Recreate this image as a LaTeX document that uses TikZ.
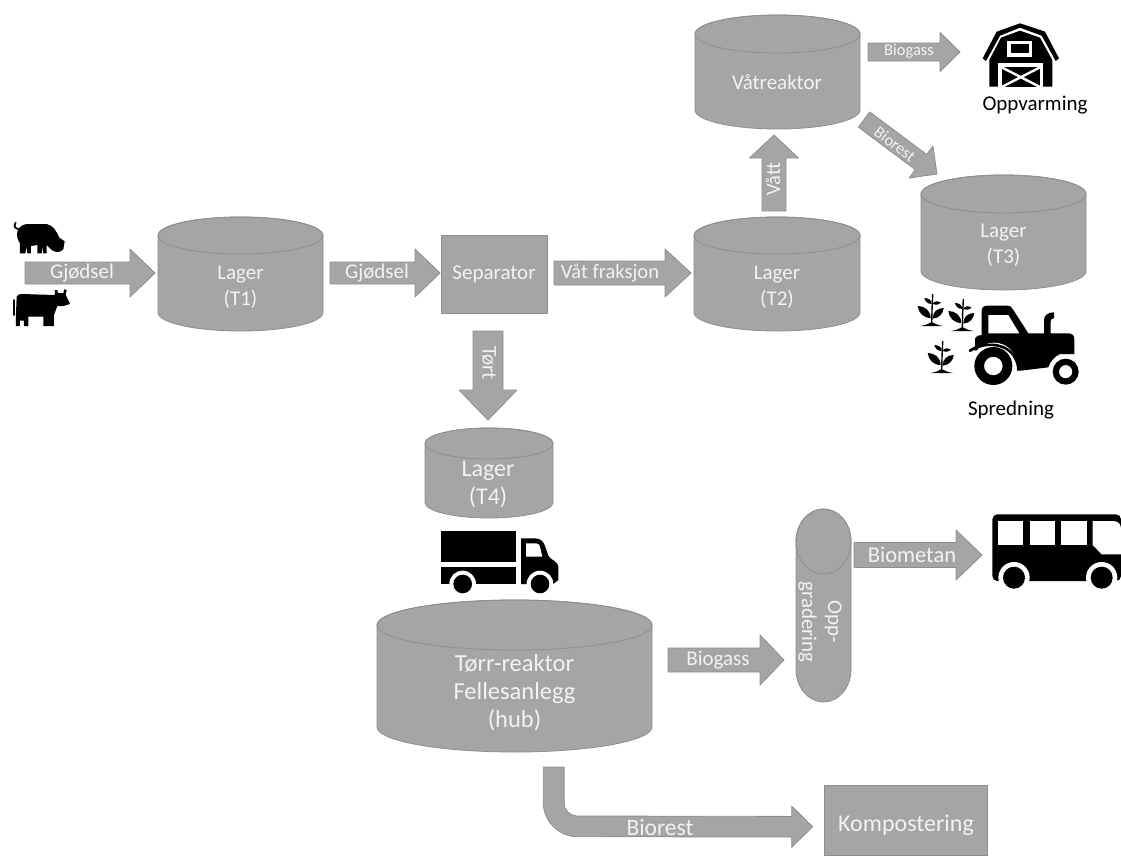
\documentclass[tikz,border=0pt]{standalone}
\usepackage{fontspec}
\setmainfont{Carlito}
\usetikzlibrary{calc}
\definecolor{boxfill}{HTML}{A5A5A5}
\definecolor{boxline}{HTML}{8E8E8E}
\definecolor{labelc}{HTML}{F2F2F2}
\tikzset{
  shapebox/.style={fill=boxfill,draw=boxline,line width=0.8pt,line join=round},
  lbl/.style={text=labelc,inner sep=0pt,align=center},
  lblblack/.style={text=black,inner sep=0pt,align=center},
  frame/.style={inner sep=0pt,outer sep=0pt},
  ico/.style={fill=black,draw=none},
  wht/.style={fill=white,draw=none}
}
\newcommand{\fs}[2]{\fontsize{#1}{#2}\selectfont}
% name, cx, top, bottom, half width, ry
\newcommand{\cyl}[6]{%
  \fill[boxfill,draw=boxline,line width=0.8pt]
    ({#2-#5},{#3+#6}) arc[start angle=180,end angle=360,x radius=#5,y radius=#6]
    -- ({#2+#5},{#4-#6}) arc[start angle=0,end angle=180,x radius=#5,y radius=#6] -- cycle;
  \draw[boxline,line width=0.8pt] ({#2},{#3+#6}) ellipse[x radius=#5,y radius=#6];
  \node[frame,minimum width={2*#5 pt},minimum height={(#4-#3)*1pt}] (#1) at ({#2},{(#3+#4)/2}) {};
}
% from, to, shaft width, head width, head length
\newcommand{\blockarrow}[5]{%
  \coordinate (hb) at ($(#2)!#5pt!(#1)$);
  \draw[shapebox]
    ($(#1)!#3pt/2!90:(#2)$) -- ($(hb)!#3pt/2!90:(#2)$) -- ($(hb)!#4pt/2!90:(#2)$) -- (#2)
    -- ($(hb)!#4pt/2!-90:(#2)$) -- ($(hb)!#3pt/2!-90:(#2)$) -- ($(#1)!#3pt/2!-90:(#2)$) -- cycle;
}
\newcommand{\plantico}[2]{%
\begin{scope}[shift={(#1,#2)},scale=1/3]
  \fill[ico] (-34,0) .. controls (-20,-2) and (-10,-6) .. (-5,-10) -- (5,-10) .. controls (10,-6) and (20,-2) .. (34,0) -- cycle;
  \draw[black,line width=1.4pt] (0,-6) -- (1,-50) -- (3,-96);
  \fill[ico] (-3,-24) .. controls (-25,-24) and (-40,-40) .. (-42,-60) .. controls (-22,-60) and (-4,-48) .. cycle;
  \fill[ico] (3,-22) .. controls (24,-24) and (34,-38) .. (36,-54) .. controls (16,-54) and (3,-42) .. cycle;
  \fill[ico] (0,-66) .. controls (-12,-66) and (-20,-74) .. (-22,-84) .. controls (-10,-84) and (0,-78) .. cycle;
  \fill[ico] (3,-66) .. controls (14,-62) and (22,-64) .. (28,-70) .. controls (18,-76) and (8,-76) .. cycle;
\end{scope}}
\begin{document}
\begin{tikzpicture}[x=1pt,y=-1pt]
\useasboundingbox (0,0) rectangle (1121,855);

% ---------- containers
\cyl{tone}{240.5}{217}{331}{82.5}{18.5}
\cyl{ttwo}{777}{217}{331}{83}{18.5}
\cyl{tthree}{1003.5}{175}{290}{82.5}{19}
\cyl{tfour}{489}{428}{518}{64}{15.5}
\cyl{vat}{777.5}{15}{129}{82.5}{19}
\cyl{torr}{514.5}{600}{752}{137.5}{25}
\cyl{opp}{823.5}{509}{702}{27.5}{32.5}
\node[shapebox,frame,minimum width=106pt,minimum height=78pt] (sep) at (494,274) {};
\node[shapebox,frame,minimum width=163pt,minimum height=70pt] (komp) at (905.5,820) {};

% ---------- named ends
\coordinate (farm) at (25,273);
\coordinate (barnW) at (982,55);
\coordinate (busW) at (992,548);

% ---------- block arrows
\coordinate (a1e) at ($(tone.west)+(-3,-1)$);
\blockarrow{farm}{a1e}{22}{48}{25}
\coordinate (a2s) at ($(tone.east)+(7,-1)$);
\coordinate (a2e) at ($(sep.west)+(-1,-1)$);
\blockarrow{a2s}{a2e}{22}{48}{25}
\coordinate (a3s) at ($(sep.east)+(7,-1)$);
\coordinate (a3e) at ($(ttwo.west)+(-3,-1)$);
\blockarrow{a3s}{a3e}{24}{48}{26}
\coordinate (a4s) at ($(ttwo.north)+(-3,-6)$);
\coordinate (a4e) at ($(vat.south)+(-3.5,6)$);
\blockarrow{a4s}{a4e}{24}{49}{23}
\coordinate (a5s) at ($(vat.east)+(8,-20)$);
\coordinate (a5e) at ($(barnW)+(-22,-3)$);
\blockarrow{a5s}{a5e}{18}{39}{20}
\coordinate (a6s) at ($(vat.east)+(4,47.5)$);
\coordinate (a6e) at ($(tthree.north)+(-66.5,-1)$);
\blockarrow{a6s}{a6e}{19}{40}{20}
\coordinate (a7s) at ($(sep.south)+(-6,18)$);
\coordinate (a7e) at ($(tfour.north)+(-1,-8)$);
\blockarrow{a7s}{a7e}{30}{58}{30}
\coordinate (a8s) at ($(torr.east)+(16,-16)$);
\coordinate (a8e) at ($(opp.west)+(-12,54.5)$);
\blockarrow{a8s}{a8e}{24}{50}{24}
\coordinate (a9s) at ($(opp.east)+(3,-50.5)$);
\coordinate (a9e) at ($(busW)+(-10,7)$);
\blockarrow{a9s}{a9e}{25}{50}{26}
% bent arrow
\coordinate (bs) at ($(torr.south)+(39.2,15)$);
\coordinate (be) at ($(komp.west)+(-11.3,6.7)$);
\draw[shapebox] ($(bs)+(-10.4,0)$) -- ++(0,36)
   .. controls +(0,18) and +(-18,0) .. ++(33.7,33.7)
   -- ($(be)+(-21,10.3)$) -- ($(be)+(-21,20.6)$) -- (be) -- ($(be)+(-21,-20.6)$) -- ($(be)+(-21,-10.3)$)
   -- ($(bs)+(23.3,49)$) .. controls +(-7,0) and +(0,7) .. ($(bs)+(10.4,36)$) -- ($(bs)+(10.4,0)$) -- cycle;

% ---------- labels on containers
\node[lbl,font=\fs{21}{26}] (tonetxt) at (240.5,287.5) {Lager\\(T1)};
\node[lbl,font=\fs{21}{26}] (ttwotxt) at (777,287.5) {Lager\\(T2)};
\node[lbl,font=\fs{21}{26}] (tthreetxt) at (1003.5,245) {Lager\\(T3)};
\node[lbl,font=\fs{24}{28}] (tfourtxt) at (488,484) {Lager\\(T4)};
\node[lbl,font=\fs{21}{26}] (vattxt) at (777,82) {Våtreaktor};
\node[lbl,font=\fs{24.5}{28}] (torrtxt) at (514.5,692.5) {Tørr-reaktor\\Fellesanlegg\\(hub)};
\node[lbl,font=\fs{21}{26},rotate=-90] (opptxt) at (820,622) {Opp-\\gradering};
\node[lbl,font=\fs{21}{26}] (septxt) at (494,274) {Separator};
\node[lbl,font=\fs{24}{28}] (komptxt) at (906,825) {Kompostering};

% ---------- labels on arrows
\node[lbl,font=\fs{21}{26}] (l1) at (82,273) {Gjødsel};
\node[lbl,font=\fs{21}{26}] (l2) at (377,273) {Gjødsel};
\node[lbl,font=\fs{20.5}{26}] (l3) at (610,273) {Våt fraksjon};
\node[lbl,font=\fs{20.5}{26},rotate=90] (l4) at (773,179) {Vått};
\node[lbl,font=\fs{16.5}{20}] (l5) at (909,51) {Biogass};
\node[lbl,font=\fs{16.5}{20},rotate=-37] (l6) at (895,144) {Biorest};
\node[lbl,font=\fs{21}{26},rotate=-90] (l7) at (489,363) {Tørt};
\node[lbl,font=\fs{21}{26}] (l8) at (718,660) {Biogass};
\node[lbl,font=\fs{22.5}{26}] (l9) at (912,555) {Biometan};
\node[lbl,font=\fs{23.5}{28}] (l10) at (660,827) {Biorest};

% ---------- black captions
\node[lblblack,font=\fs{21}{26}] (cap1) at (1035,105) {Oppvarming};
\node[lblblack,font=\fs{21}{26}] (cap2) at (1011,410) {Spredning};

% ---------- pig
\begin{scope}[shift={(0,200)},scale=1/3]
  \draw[black,line width=1.8pt,line cap=round] (62,88) .. controls (48,88) and (38,80) .. (47,68);
  \fill[ico] (52,95) .. controls (58,78) and (70,72) .. (85,72) -- (140,72) .. controls (160,76) and (170,95) .. (178,113)
    -- (194,124) -- (190,148) .. controls (180,160) and (160,158) .. (150,145) -- (140,135) -- (140,160) -- (130,160) -- (128,140) -- (125,160) -- (112,160) -- (112,135)
    -- (93,138) -- (93,160) -- (82,160) -- (80,140) -- (76,160) -- (60,160) -- (60,130) .. controls (52,120) and (50,105) .. (52,95) -- cycle;
\end{scope}
% ---------- cow
\begin{scope}[shift={(0,200)},scale=1/3]
  \draw[black,line width=1.8pt,line cap=round] (43,300) -- (43,345);
  \fill[ico] (50,290) .. controls (52,284) and (58,282) .. (65,282) -- (165,285) -- (164,270) -- (172,270) -- (174,279) -- (190,279) -- (193,268) -- (200,270) -- (197,284)
    -- (210,312) -- (190,318) -- (172,318) -- (162,345) -- (162,378) -- (130,378) -- (130,350) -- (85,350) -- (85,378) -- (72,378) -- (72,362) -- (60,362) -- (60,378) -- (48,378) -- (48,340) -- cycle;
\end{scope}
% ---------- barn
\begin{scope}[shift={(975,15)},scale=1/3]
  \fill[ico] (23,130) -- (65,50) -- (135,25) -- (210,50) -- (252,130) -- (242,138) -- (200,62) -- (135,38) -- (75,62) -- (33,138) -- cycle;
  \fill[ico] (43,215) -- (43,135) -- (78,68) -- (135,47) -- (195,68) -- (232,135) -- (232,215) -- cycle;
  \fill[wht] (97,78) rectangle (172,125);
  \fill[ico] (108,88) rectangle (162,115);
  \fill[wht] (70,145) rectangle (205,216);
  \fill[ico] (80,157) rectangle (195,216);
  \draw[white,line width=2.4pt] (80,157) -- (195,216) (195,157) -- (80,216);
\end{scope}
% ---------- tractor
\begin{scope}[shift={(900,280)},scale=1/3]
  \fill[ico] (245,165) -- (245,92) .. controls (245,82) and (252,77) .. (262,77) -- (320,77) .. controls (332,77) and (336,82) .. (340,90) -- (385,160) -- (432,160) -- (432,120) .. controls (432,105) and (445,97) .. (462,97) -- (462,115) .. controls (454,115) and (452,118) .. (452,125) -- (452,160)
     -- (505,160) .. controls (517,160) and (523,167) .. (523,178) -- (523,222) -- (480,222) .. controls (465,228) and (450,245) .. (445,262) -- (362,272) -- (300,272) -- (225,210) -- (225,175) .. controls (228,168) and (235,165) .. (245,165) -- cycle;
  \fill[wht] (265,105) -- (325,105) -- (358,160) -- (265,160) -- cycle;
  \draw[black,line width=2.8pt,line cap=round] (210,212) -- (235,198);
  \fill[wht] (282,258) circle (70);
  \draw[black,line width=2.6pt,line cap=round] (222,207) .. controls (245,190) and (310,185) .. (340,225) .. controls (350,240) and (355,255) .. (355,268);
  \fill[wht] (497,275) circle (47);
  \fill[ico,even odd rule] (280,258) circle (57) (280,258) circle (28);
  \fill[ico,even odd rule] (497,275) circle (39) (497,275) circle (20);
\end{scope}
% ---------- plants
\plantico{931.7}{326}
\plantico{962.3}{331}
\plantico{941.7}{373}
% ---------- truck
\begin{scope}[shift={(420,510)},scale=1/3]
  \fill[ico] (63,63) rectangle (288,155);
  \fill[ico] (63,170) rectangle (288,222);
  \fill[ico] (303,85) -- (345,85) .. controls (362,85) and (370,95) .. (375,108) -- (385,137) .. controls (392,150) and (415,155) .. (415,170) -- (415,210) -- (400,222) -- (303,222) -- cycle;
  \fill[wht] (318,100) -- (348,100) .. controls (356,100) and (358,105) .. (360,110) -- (367,140) -- (318,140) -- cycle;
  \fill[wht] (128,222) circle (40);
  \fill[wht] (360,222) circle (40);
  \fill[ico] (128,222) circle (28);
  \fill[ico] (360,222) circle (28);
\end{scope}
% ---------- bus
\begin{scope}[shift={(985,505)},scale=1/3]
  \fill[ico,rounded corners=5pt] (22,28) rectangle (408,228);
  \fill[wht] (40,48) rectangle (115,120);
  \fill[wht] (134,48) rectangle (210,120);
  \fill[wht] (228,48) rectangle (305,120);
  \fill[wht] (323,48) -- (385,48) .. controls (400,48) and (408,58) .. (408,72) -- (408,148) -- (350,148) -- (323,120) -- cycle;
  \fill[wht] (87,218) circle (47);
  \fill[wht] (350,218) circle (47);
  \fill[ico] (87,218) circle (33);
  \fill[ico] (350,218) circle (33);
\end{scope}
\end{tikzpicture}
\end{document}
